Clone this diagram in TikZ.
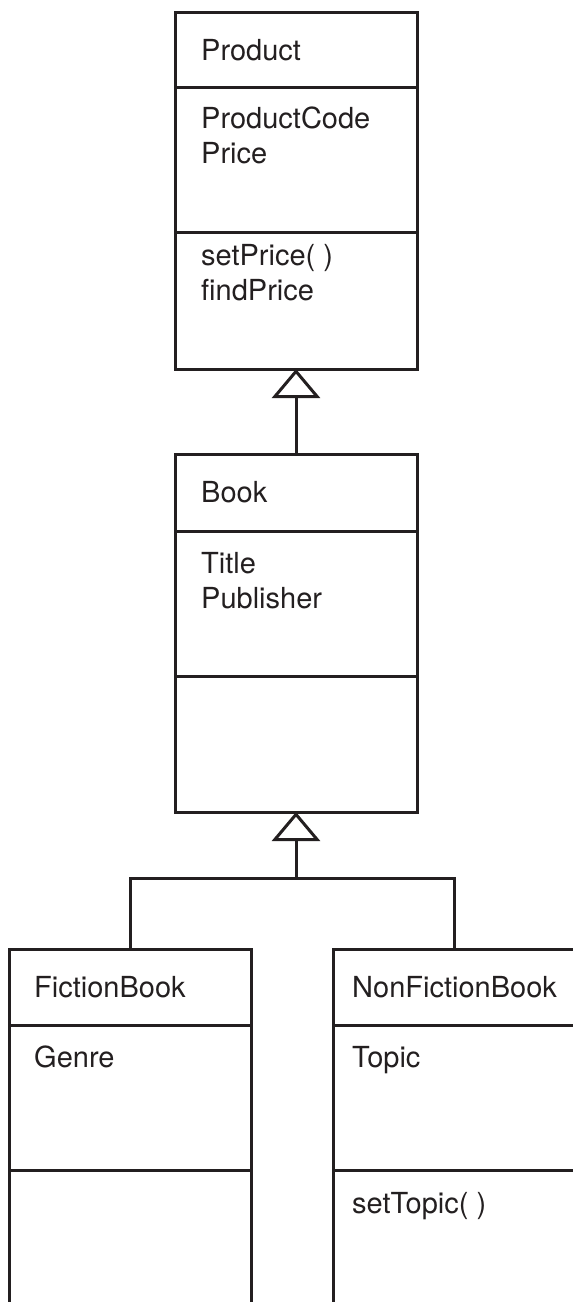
\documentclass[tikz,border=0pt]{standalone}
\usepackage{fontspec}
\setmainfont{TeX Gyre Heros}
\usepackage{xcolor}
\usetikzlibrary{positioning}
\usetikzlibrary{arrows.meta}

\definecolor{umlink}{HTML}{231F20}

\tikzset{
  compart/.style={draw=umlink, line width=3pt, minimum width=242pt, inner sep=0pt, outer sep=0pt},
  txt/.style={anchor=base west, inner sep=0pt, text=umlink},
  gen/.style={draw=umlink, line width=3pt, -{Triangle[open, length=29pt, width=48pt]}},
  link/.style={draw=umlink, line width=3pt},
}

\begin{document}
\begin{tikzpicture}[x=1pt, y=-1pt, font=\fontsize{29}{35}\selectfont]
\useasboundingbox (0,0) rectangle (573,1302);
\clip (0,0) rectangle (573,1302);

% Product
\node[compart, minimum height=75pt, anchor=north west] (prodname) at (175,12) {};
\node[compart, minimum height=145pt, below=0pt of prodname] (prodattr) {};
\node[compart, minimum height=137pt, below=0pt of prodattr] (prodmeth) {};
\node[txt] (prodlbl) at (201,60) {Product};
\node[txt] (pcode) at (201,128) {ProductCode};
\node[txt] (price) at (201,163) {Price};
\node[txt] (setprice) at (201,265) {setPrice( )};
\node[txt] (findprice) at (201,300) {findPrice};

% Book
\node[compart, minimum height=77pt, anchor=north west] (bookname) at (175,454) {};
\node[compart, minimum height=145pt, below=0pt of bookname] (bookattr) {};
\node[compart, minimum height=136pt, below=0pt of bookattr] (bookmeth) {};
\node[txt] (booklbl) at (201,502) {Book};
\node[txt] (title) at (201,573) {Title};
\node[txt] (publisher) at (201,608) {Publisher};

% FictionBook
\node[compart, minimum height=76pt, anchor=north west] (fbname) at (9,949) {};
\node[compart, minimum height=145pt, below=0pt of fbname] (fbattr) {};
\node[compart, minimum height=160pt, below=0pt of fbattr] (fbmeth) {};
\node[txt] (fblbl) at (34,997) {FictionBook};
\node[txt] (genre) at (34,1067) {Genre};

% NonFictionBook
\node[compart, minimum height=76pt, anchor=north west] (nfbname) at (333,949) {};
\node[compart, minimum height=145pt, below=0pt of nfbname] (nfbattr) {};
\node[compart, minimum height=160pt, below=0pt of nfbattr] (nfbmeth) {};
\node[txt] (nfblbl) at (352,997) {NonFictionBook};
\node[txt] (topic) at (352,1067) {Topic};
\node[txt] (settopic) at (352,1213) {setTopic( )};

% inheritance
\coordinate (fork) at (296,878);
\draw[gen] (bookname.north) -- (prodmeth.south);
\draw[gen] (fork) -- (bookmeth.south);
\draw[link] (fbname.north) |- (fork) -| (nfbname.north);

\end{tikzpicture}
\end{document}
